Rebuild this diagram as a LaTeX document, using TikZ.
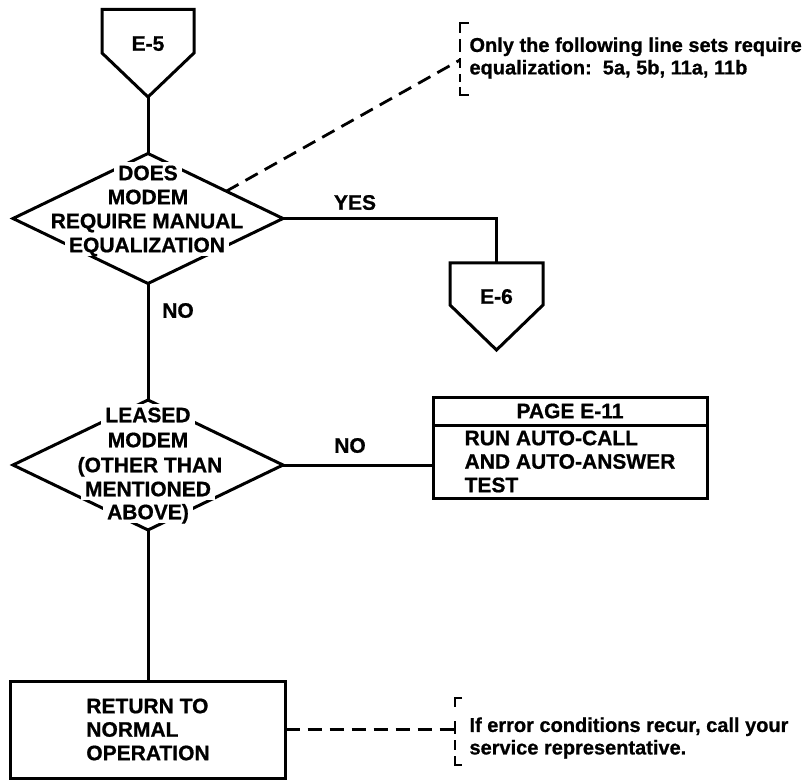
\documentclass[tikz,border=0pt]{standalone}
\usepackage{fontspec}
\setmainfont{Liberation Sans}[BoldFeatures={FakeBold=0.8}]
\usetikzlibrary{shapes.geometric,calc}
\begin{document}
\begin{tikzpicture}[x=1pt,y=-1pt,line width=3pt,
  bigtxt/.style={font=\bfseries\fontsize{21}{23.5}\selectfont},
  dec/.style={shape=diamond,draw,minimum width=270pt,minimum height=130pt,inner sep=0pt,outer sep=0pt},
  lntxt/.style={bigtxt,fill=white,inner xsep=4pt,inner ysep=2.5pt,text height=15.5pt,text depth=1pt},
  lbl/.style={bigtxt,inner sep=0pt,text height=15.5pt,text depth=0pt},
  boxnode/.style={draw,rectangle,inner sep=0pt,outer sep=0pt},
  dashln/.style={line width=2.8pt,dash pattern=on 14pt off 8pt},
  brk/.style={line width=2.8pt},
  notetxt/.style={font=\bfseries\fontsize{20}{22.5}\selectfont,align=left,anchor=west,inner sep=0pt}]
\useasboundingbox (0,0) rectangle (807,781);

% E-5 off-page connector
\coordinate (e5a) at (102,9.5);
\coordinate (e5b) at (194,9.5);
\coordinate (e5tip) at (148,97);
\draw[line join=miter] (e5a) -- (e5b) -- (194,53) -- (e5tip) -- (102,53) -- cycle;
\node[lbl] (e5txt) at (148,43) {E-5};

% Decision 1
\node[dec] (d1) at (148,218.5) {};
\node[lntxt] (d1l1) at (148,173) {DOES};
\node[lntxt] (d1l2) at (148,197) {MODEM};
\node[lntxt] (d1l3) at (147,221) {REQUIRE MANUAL};
\node[lntxt] (d1l4) at (147,245) {EQUALIZATION};

% E-6 off-page connector
\coordinate (e6top) at (496.5,263);
\coordinate (e6tip) at (496.5,350);
\draw (450,263) -- (543,263) -- (543,305) -- (e6tip) -- (450,305) -- cycle;
\node[lbl] (e6txt) at (496.5,296) {E-6};

% Decision 2
\node[dec] (d2) at (148,465) {};
\node[lntxt] (d2l1) at (148,415) {LEASED};
\node[lntxt] (d2l2) at (148,440) {MODEM};
\node[lntxt] (d2l3) at (150,465) {(OTHER THAN};
\node[lntxt] (d2l4) at (148,489) {MENTIONED};
\node[lntxt] (d2l5) at (148,512) {ABOVE)};

% Page E-11 box
\node[boxnode,bigtxt,minimum width=274pt,minimum height=28pt] (hdr) at (570,411) {PAGE E-11};
\node[boxnode,bigtxt,align=left,minimum width=274pt,minimum height=73pt] (bdy) at (570,461.5)
  {RUN AUTO-CALL\\AND AUTO-ANSWER\\TEST};

% Return box
\node[boxnode,bigtxt,align=left,minimum width=275pt,minimum height=97pt] (ret) at (148,729.5)
  {RETURN TO\\NORMAL\\OPERATION};

% Labels
\node[lbl] (yes) at (355,202) {YES};
\node[lbl] (no1) at (178,310) {NO};
\node[lbl] (no2) at (350,445) {NO};

% Connectors
\draw (e5tip) -- (d1.north);
\draw (d1.east) -- (d1.east -| e6top) -- (e6top);
\draw (d1.south) -- (d2.north);
\draw (d2.east) -- (d2.east -| bdy.west);
\draw (d2.south) -- (ret.north);

% Annotation 1
\coordinate (dpt) at ($(d1.north)!0.58!(d1.east)$);
\coordinate (nt1) at (460,60);
\draw[dashln] (dpt) -- (nt1);
\draw[brk] (469,23) -- (460,23) -- (460,33);
\draw[brk] (460,39) -- (460,52);
\draw[brk] (460,58) -- (460,68);
\draw[brk] (460,74) -- (460,82);
\draw[brk] (460,87) -- (460,95) -- (469,95);
\node[notetxt] (note1) at (468,58) {Only the following line sets require\\equalization:~~5a, 5b, 11a, 11b};

% Annotation 2
\coordinate (nt2) at (455,729.5);
\draw[dashln] (ret.east) -- (nt2);
\draw[brk] (462,698) -- (455,698) -- (455,707);
\draw[brk] (455,721) -- (455,734);
\draw[brk] (455,740) -- (455,750);
\draw[brk] (455,756) -- (455,765) -- (462,765);
\node[notetxt] (note2) at (468,738) {If error conditions recur, call your\\service representative.};
\end{tikzpicture}
\end{document}
